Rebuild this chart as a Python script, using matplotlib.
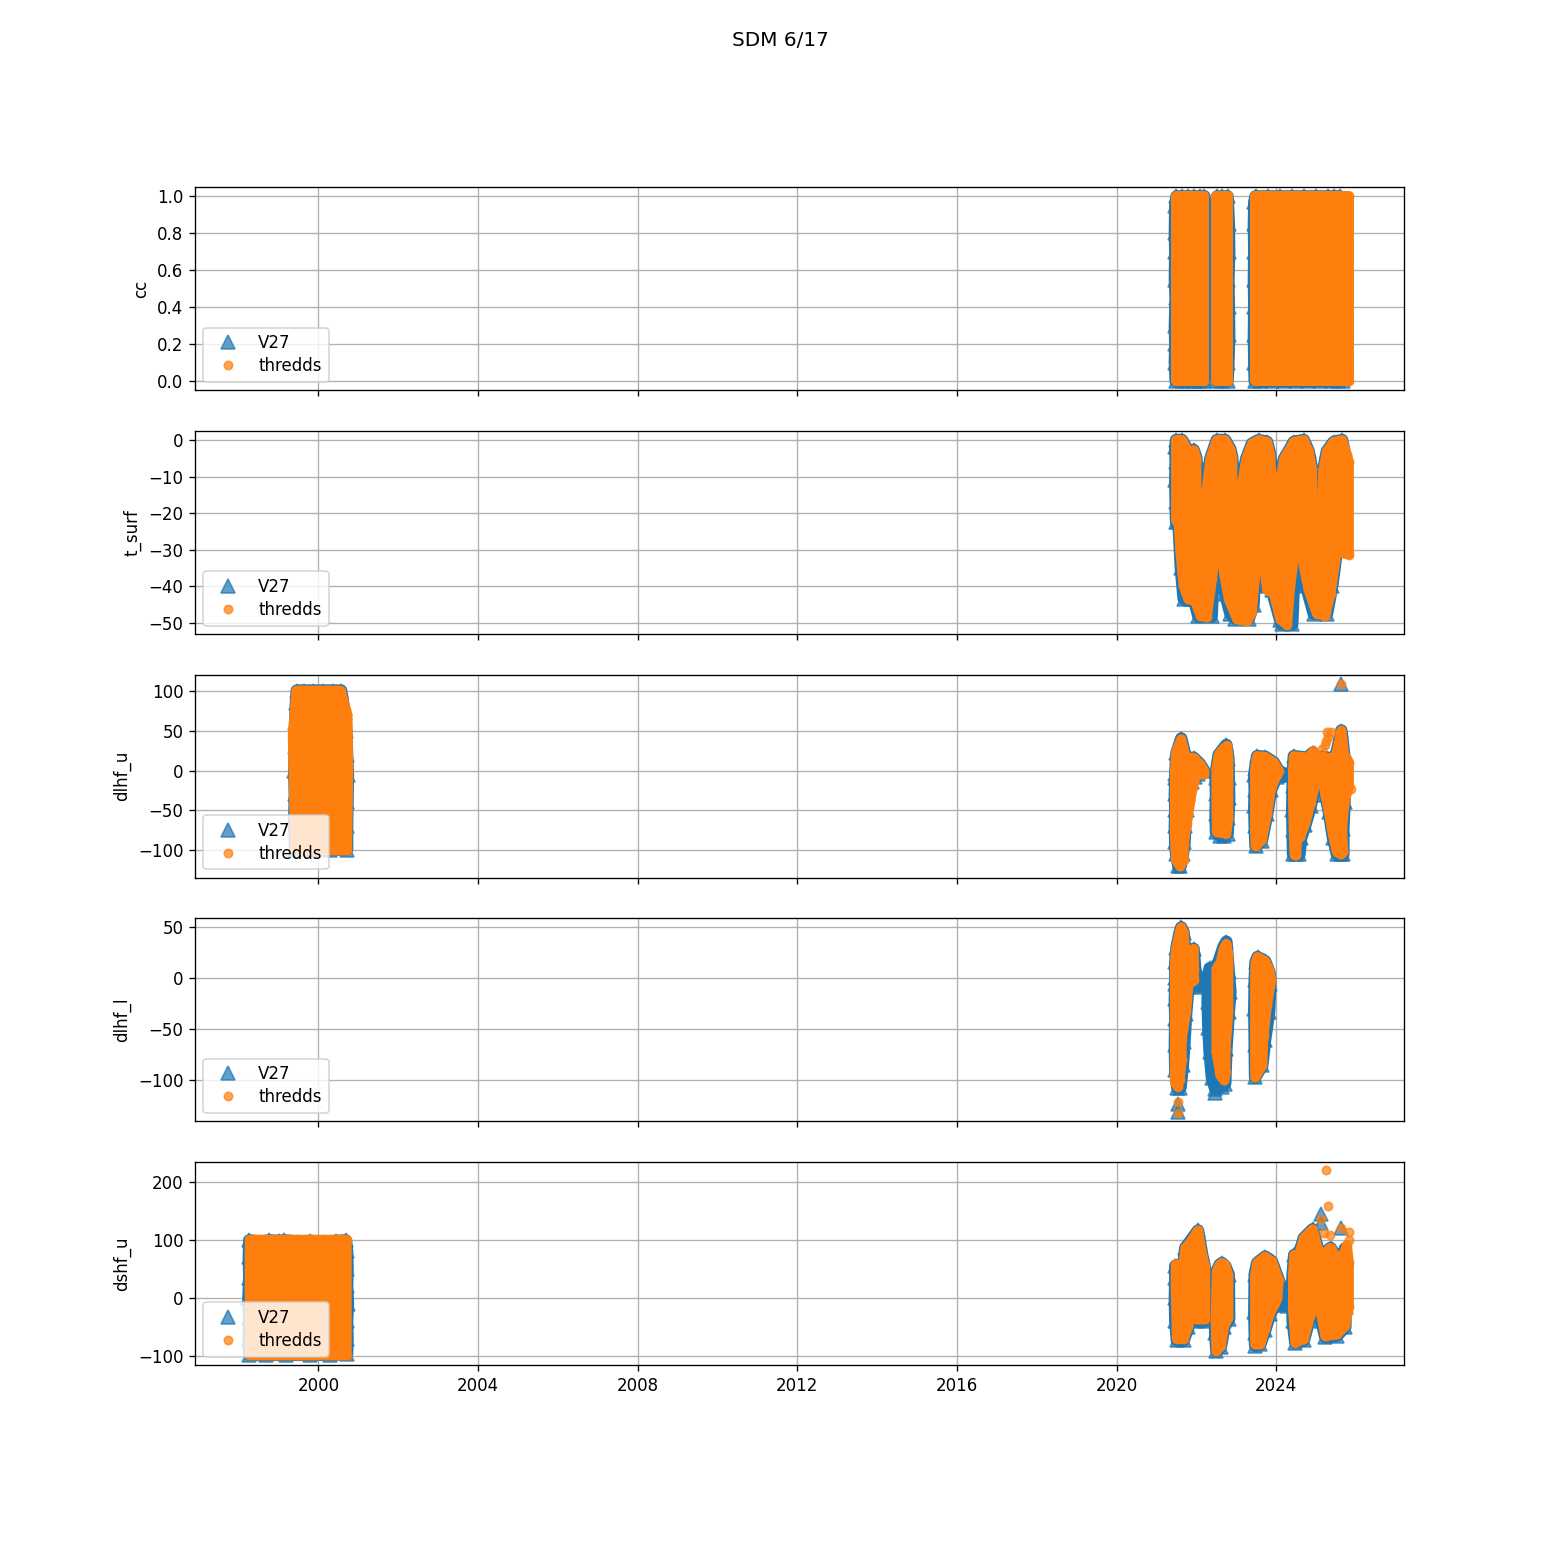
import numpy as np
import matplotlib
matplotlib.use("Agg")
import matplotlib.pyplot as plt

nan = float("nan")

# the clouds are far too dense to read point by point, so each one is kept as
# its outline (decimal year, value), nan between clouds

cc_v27_x = [21.50, 21.65, 21.80, 21.95, 22.10, 22.20, 22.21, 22.20, 22.21, 22.20, 22.21, 22.20, 22.10, 21.95, 21.80, 21.65, 21.48,
            21.46, 21.47, 21.46, 21.48, 21.46, 21.47, 21.46, 21.47, nan,
            22.52, 22.65, 22.78, 22.81, 22.82, 22.80, 22.81, 22.82, 22.80, 22.78, 22.65, 22.50, 22.49, 22.48, 22.49, 22.48, 22.49, nan,
            23.48, 23.80, 24.10, 24.40, 24.70, 25.00, 25.30, 25.45, 25.60, 25.66, 25.55, 25.40, 25.10, 24.80, 24.50, 24.20, 23.90, 23.60, 23.46,
            23.45, 23.44, 23.45, 23.44, 23.45, 23.44, 23.45]
cc_v27_y = [1, 1, 1, 1, 1, 1, .8, .6, .4, .2, .05, 0, 0, 0, 0, 0, 0,
            .1, .2, .3, .45, .55, .7, .8, .95, nan,
            1, 1, 1, .85, .7, .55, .4, .25, .1, 0, 0, 0, .2, .4, .6, .8, .97, nan,
            1, 1, 1, 1, 1, 1, 1, 1, 1, 0, 0, 0, 0, 0, 0, 0, 0, 0, 0,
            .1, .25, .4, .55, .7, .85, .97]
cc_thredds_x = [21.48, 22.20, 22.20, 21.48, nan, 22.50, 22.80, 22.80, 22.50, nan, 23.46, 25.82, 25.82, 23.46]
cc_thredds_y = [1, 1, 0, 0, nan, 1, 1, 0, 0, nan, 1, 1, 0, 0]

tsurf_thredds_x = [21.49, 21.64, 21.72, 21.80, 21.93, 22.00, 22.00, 22.12, 22.25, 22.35, 22.51, 22.72, 22.85, 22.90, 22.90, 23.03, 23.16, 23.25, 23.39, 23.56,
                   23.77, 23.85, 23.87, 24.00, 24.13, 24.20, 24.31, 24.44, 24.69, 24.81, 24.90, 24.90, 25.02, 25.15, 25.18, 25.27, 25.44, 25.65, 25.77, 25.82,
                   25.82, 25.69, 25.65, 25.59, 25.48, 25.36, 25.23, 25.02, 24.81, 24.69, 24.58, 24.48, 24.35, 24.27, 24.10, 23.94,
                   23.77, 23.68, 23.56, 23.48, 23.39, 23.27, 23.02, 22.81, 22.70, 22.60, 22.47, 22.39, 22.26, 22.10, 21.97, 21.80,
                   21.68, 21.60, 21.55, 21.49]
tsurf_thredds_y = [0, 0, -1.5, -4, -2.8, -5, -14, -28, -14, -5, 0, 0, -2.5, -5, -11, -25, -11, -5, -1, 0,
                   -0.5, -4, -9, -22, -9, -5, -3, -0.5, 0, -3, -8, -15, -28, -15, -8, -3, -0.5, 0, -4, -6,
                   -31.3, -31, -28, -22.5, -33, -42, -48, -47.5, -41, -34.5, -23.5, -29, -40, -50.5, -49, -42,
                   -41, -33.5, -26, -36, -47, -49.5, -49, -43.5, -37, -26, -31, -38, -48.5, -48, -44, -43.5,
                   -40, -31, -22, -22]
tsurf_v27_x = [21.49, 21.64, 21.72, 21.80, 21.93, 22.00, 22.00, 22.12, 22.25, 22.35, 22.51, 22.72, 22.85, 22.90, 22.90, 23.03, 23.16, 23.25, 23.39, 23.56,
               23.77, 23.85, 23.87, 24.00, 24.13, 24.20, 24.31, 24.44, 24.69, 24.81, 24.90, 24.90, 25.02, 25.15, 25.18, 25.27, 25.44, 25.65, 25.72,
               25.59, 25.52, 25.40, 25.27, 24.94, 24.75, 24.57, 24.44, 24.40, 24.14, 24.10, 23.89, 23.68, 23.56, 23.47, 23.43,
               23.31, 22.97, 22.85, 22.72, 22.55, 22.43, 22.38, 22.05, 21.93, 21.85, 21.68, 21.61, 21.55, 21.49,
               21.48, 21.47, 21.48, 21.47]
tsurf_v27_y = [0, 0, -1.5, -3.5, -2.7, -5, -12, -22, -12, -5, 0, 0, -2.5, -5, -10, -20, -10, -5, -1, 0,
               -0.5, -4, -8, -18, -8, -5, -3, -0.5, 0, -3, -8, -13, -22, -13, -8, -3, -0.5, 0, -4,
               -23, -30, -40, -47.5, -47.5, -40, -31, -39, -50.4, -50.4, -49.3, -41, -40, -30, -35, -45,
               -48.8, -48.8, -47.5, -42, -30, -36, -48.2, -48.2, -43.4, -43.4, -43.4, -35, -22.5, -22.5,
               -17, -11, -6, -2]

dlhfu_thredds_x = [1999.45, 2000.56, 2000.73, 2000.75, 2000.72, 1999.42, 1999.36, nan,
                   21.46, 21.49, 21.62, 21.72, 21.84, 21.93, 22.09, 22.19, 22.19, 22.05, 21.97, 21.89, 21.76, 21.68, 21.68, 21.59, 21.49, 21.46, nan,
                   22.50, 22.56, 22.67, 22.77, 22.80, 22.80, 22.75, 22.51, 22.50, nan,
                   23.47, 23.52, 23.73, 23.94, 24.06, 24.01, 23.87, 23.77, 23.64, 23.48, 23.47, nan,
                   24.42, 24.44, 24.77, 24.91, 25.02, 25.15, 25.27, 25.44, 25.52, 25.63, 25.70, 25.78, 25.82, 25.82, 25.71, 25.65, 25.68, 25.62,
                   25.52, 25.42, 25.32, 25.23, 25.19, 25.02, 24.86, 24.73, 24.60, 24.52, 24.50, 24.46, 24.44, 24.42, nan,
                   25.63, nan, 24.91, nan, 25.15, nan, 25.25, nan, 25.27, nan, 25.36, nan, 25.22, nan, 25.30, nan, 25.86]
dlhfu_thredds_y = [100, 100, 70, 0, -100, -100, 44, nan,
                   -4, 23, 39, 19, 15, 16, 8, 0, -4, -4, -10, -25, -66, -93, -112, -120, -112, -81, nan,
                   2, 20, 27, 31, 15, -60, -79, -77, -40, nan,
                   2, 18, 17, 10, -0.4, -6, -22.5, -54, -87, -94.6, -73, nan,
                   0, 18, 16, 22, 15, 17, 16, 15, 24, 50, 20, 14, 10, -19, -40, -73, -102, -105,
                   -102, -81, -52, -31, -19, -8, -41, -66, -83, -86, -106, -106, -80, -40, nan,
                   108, nan, 25.8, nan, 27, nan, 37.5, nan, 48, nan, 48.75, nan, 32, nan, 41.7, nan, -23]
dlhfu_v27_x = [1999.46, 1999.65, 1999.86, 2000.11, 2000.36, 2000.57, 2000.66, 2000.70, 2000.72, 2000.74, 2000.73, 2000.72, 2000.72,
               2000.3, 1999.9, 1999.42, 1999.40, 1999.41, 1999.40, 1999.41, 1999.42, 1999.44, nan,
               21.47, 21.50, 21.62, 21.72, 21.84, 21.93, 22.09, 22.19, 22.05, 21.97, 21.88, 21.80, 21.76, 21.72, 21.70, 21.66, 21.60, 21.55, 21.49,
               21.47, 21.46, 21.47, 21.46, 21.47, nan,
               22.50, 22.56, 22.67, 22.75, 22.80, 22.81, 22.82, 22.80, 22.78, 22.70, 22.60, 22.49, 22.48, 22.49, 22.48, nan,
               23.47, 23.52, 23.73, 23.94, 24.06, 24.28, 24.28, 24.01, 23.87, 23.77, 23.64, 23.48, 23.46, 23.45, 23.46, 23.45, nan,
               24.42, 24.44, 24.77, 24.91, 25.02, 25.15, 25.27, 25.44, 25.52, 25.63, 25.70, 25.72, 25.72, 25.72, 25.71, 25.68, 25.68, 25.62,
               25.52, 25.42, 25.32, 25.23, 25.10, 25.02, 24.86, 24.73, 24.62, 24.58, 24.50, 24.42, 24.41, 24.40, 24.41, nan,
               25.63]
dlhfu_v27_y = [100, 100, 100, 100, 100, 100, 72, 50, 20, -5, -40, -70, -99,
               -99, -99, -99, -60, -30, 0, 30, 60, 85, nan,
               -4, 22, 40, 19, 15, 16, 8, 0, -4, -8, -15, -30, -50, -70, -90, -105, -120, -120, -105,
               -90, -70, -50, -30, -10, nan,
               2, 20, 27, 32, 15, -10, -35, -60, -79, -82, -82, -77, -55, -30, -10, nan,
               2, 18, 17, 10, -0.4, -6, -6, -8, -24, -55, -88, -95, -70, -45, -25, -5, nan,
               0, 18, 16, 22, 15, 17, 16, 15, 24, 50, 20, 14, 10, -19, -40, -73, -105, -105,
               -105, -84, -52, -31, -19, -10, -45, -68, -85, -105, -105, -105, -75, -50, -20, nan,
               108]

dlhfl_thredds_x = [21.46, 21.49, 21.58, 21.62, 21.68, 21.71, 21.83, 21.93, 21.94, 21.94, 21.80, 21.74, 21.63, 21.63, 21.58, 21.53, 21.46, 21.46, nan,
                   22.50, 22.50, 22.61, 22.68, 22.75, 22.80, 22.80, 22.73, 22.73, 22.70, 22.60, 22.50, nan,
                   23.47, 23.48, 23.53, 23.72, 23.83, 23.87, 23.77, 23.68, 23.65, 23.47, 23.47, nan,
                   21.55, nan, 21.55]
dlhfl_thredds_y = [16, 29, 45, 50, 45, 29, 24, 29, 9.5, -2, -6.5, -33, -60, -80, -100, -106, -102, -33, nan,
                   0, 9.5, 16, 29, 34, 22.5, -33, -69, -92, -100, -95, -72, nan,
                   0, 16, 21, 17, 8, -2, -26, -56, -85, -97, -66, nan,
                   -121, nan, -132]
dlhfl_v27_x = [21.47, 21.47, 21.50, 21.58, 21.62, 21.68, 21.71, 21.83, 21.93, 21.97, 22.10, 22.10, 21.80, 21.74, 21.70, 21.66, 21.60, 21.52,
               21.47, 21.46, 21.47, 21.46, 21.47, nan,
               22.29, 22.33, 22.43, 22.55, 22.68, 22.75, 22.81, 22.85, 22.81, 22.75, 22.72, 22.64, 22.47, 22.39, 22.33, 22.30, 22.28, nan,
               23.46, 23.48, 23.53, 23.72, 23.83, 23.85, 23.82, 23.72, 23.65, 23.47, 23.46, 23.45, nan,
               21.55, nan, 21.55, nan, 22.47]
dlhfl_v27_y = [0, 16, 30, 45, 50, 45, 29, 24, 29, 8, -3, -8, -8, -35, -62, -85, -107, -107,
               -90, -65, -40, -20, -5, nan,
               -2, 10, 9.5, 16, 31, 36, 6, -13, -33, -69, -103, -106, -108, -98, -72, -49, -23, nan,
               -2, 16, 21, 17, 6, -5, -33, -60, -85, -97, -65, -30, nan,
               -123, nan, -131, nan, -112]

dshfu_thredds_x = [1998.28, 1999.00, 1999.06, 1999.12, 2000.71, 2000.71, 1998.28, nan,
                   21.48, 21.68, 21.72, 21.83, 22.04, 22.14, 22.22, 22.22, 22.22, 22.01, 21.94, 21.86, 21.80, 21.68, 21.51, 21.48, nan,
                   22.50, 22.51, 22.58, 22.64, 22.72, 22.80, 22.80, 22.70, 22.61, 22.50, 22.48, nan,
                   23.47, 23.52, 23.72, 23.89, 24.06, 24.03, 23.98, 23.85, 23.72, 23.60, 23.47, 23.47, nan,
                   24.42, 24.45, 24.56, 24.69, 24.91, 25.10, 25.36, 25.61, 25.77, 25.82, 25.82, 25.73, 25.52, 25.23, 25.15, 25.06, 24.94, 24.85, 24.69, 24.48, 24.42, nan,
                   25.25, nan, 25.29, nan, 25.13, nan, 25.19, nan, 25.34, nan, 25.81, nan, 25.83, nan, 25.63]
dshfu_thredds_y = [100, 100, 95, 100, 100, -99, -99, nan,
                   57, 60, 86, 94, 116, 75, 54, 9, -37, -37, -17, -17, -48, -71, -71, 17, nan,
                   17, 46, 57, 60, 57, 40, -34, -48, -83, -92, -40, nan,
                   40, 60, 71, 63, 31, 0, -9, -25, -54, -80, -80, -40, nan,
                   40, 74, 71, 103, 118, 71, 86, 60, 91, 60, -15, -48, -63, -66, -37, -11, -11, -31, -71, -77, -20, nan,
                   219.5, nan, 158.6, nan, 136, nan, 111, nan, 109, nan, 114, nan, 99, nan, 119.5]
dshfu_v27_x = [1998.27, 1998.56, 1998.77, 1999.02, 1999.15, 1999.48, 1999.78, 2000.11, 2000.44, 2000.69,
               2000.72, 2000.73, 2000.72, 2000.74, 2000.72, 2000.73, 2000.72, 2000.3, 1999.8, 1999.2, 1998.7, 1998.27,
               1998.26, 1998.27, 1998.25, 1998.27, 1998.26, nan,
               21.47, 21.68, 21.72, 21.83, 22.04, 22.14, 22.22, 22.25, 22.22, 22.01, 21.94, 21.86, 21.80, 21.68, 21.51, 21.47, 21.46, 21.47, nan,
               22.50, 22.51, 22.58, 22.64, 22.72, 22.81, 22.82, 22.70, 22.61, 22.50, 22.47, 22.46, nan,
               23.46, 23.52, 23.72, 23.89, 24.06, 24.28, 24.28, 23.98, 23.85, 23.72, 23.60, 23.47, 23.46, 23.45, nan,
               24.41, 24.45, 24.56, 24.69, 24.91, 25.10, 25.36, 25.61, 25.72, 25.74, 25.74, 25.73, 25.52, 25.23, 25.13, 25.06, 24.94, 24.85, 24.69, 24.48, 24.41, 24.40, nan,
               25.13, nan, 25.13, nan, 25.63, nan, 24.56]
dshfu_v27_y = [99, 97, 99, 98, 99, 97, 98, 97, 98, 99,
               80, 50, 20, -10, -40, -70, -97, -98, -98, -98, -98, -98,
               -70, -35, 0, 35, 70, nan,
               55, 60, 86, 96, 116, 75, 50, 9, -40, -40, -20, -20, -50, -73, -73, -40, 0, 35, nan,
               17, 46, 57, 60, 55, 40, -36, -50, -85, -92, -60, -10, nan,
               40, 60, 71, 63, 31, -8, -14, -12, -27, -56, -80, -82, -60, -25, nan,
               40, 74, 71, 103, 118, 71, 86, 60, 85, 60, -15, -50, -65, -68, -40, -13, -13, -33, -73, -78, -40, 10, nan,
               145, nan, 129, nan, 121, nan, 90]

year_ticks = [2000, 2004, 2008, 2012, 2016, 2020, 2024]
variables = ["cc", "t_surf", "dlhf_u", "dlhf_l", "dshf_u"]
v27_outlines = [(cc_v27_x, cc_v27_y), (tsurf_v27_x, tsurf_v27_y), (dlhfu_v27_x, dlhfu_v27_y),
                (dlhfl_v27_x, dlhfl_v27_y), (dshfu_v27_x, dshfu_v27_y)]
thredds_outlines = [(cc_thredds_x, cc_thredds_y), (tsurf_thredds_x, tsurf_thredds_y), (dlhfu_thredds_x, dlhfu_thredds_y),
                    (dlhfl_thredds_x, dlhfl_thredds_y), (dshfu_thredds_x, dshfu_thredds_y)]
y_limits = [(-0.05, 1.05), (-53, 2.5), (-134, 120), (-140, 59), (-115.5, 234)]


def to_year(values):
    # the outlines near 2021+ are written without the 2000
    x = np.array(values, dtype=float)
    return np.where(x < 100, x + 2000, x)


def draw_cloud(ax, outline, color, marker, ms, width, label, z):
    x = to_year(outline[0])
    y = np.array(outline[1], dtype=float)
    breaks = np.where(np.isnan(x))[0]
    for xs, ys in zip(np.split(x, breaks), np.split(y, breaks)):
        keep = ~np.isnan(xs)
        if keep.sum() > 2:
            ax.fill(xs[keep], ys[keep], facecolor=color, edgecolor=color, linewidth=width, joinstyle="round", zorder=z)
    ax.plot(x, y, linestyle="", marker=marker, markersize=ms, color=color, alpha=0.7, label=label, zorder=z + 0.1)


fig, axes = plt.subplots(5, 1, figsize=(13, 13), dpi=120, sharex=True)
fig.subplots_adjust(top=0.88, bottom=0.125)
fig.suptitle("SDM 6/17")

for i, ax in enumerate(axes):
    draw_cloud(ax, v27_outlines[i], "C0", "^", 8, 7.5, "V27", 2)
    draw_cloud(ax, thredds_outlines[i], "C1", "o", 5, 6, "thredds", 2.2)
    ax.set_ylabel(variables[i])
    ax.set_ylim(y_limits[i])
    ax.grid(True)
    ax.legend(loc="lower left", borderpad=0.4, labelspacing=0.3, handlelength=2.1, handletextpad=0.8)

axes[-1].set_xlim(1996.91, 2027.2)
axes[-1].set_xticks(year_ticks)
axes[-1].set_xticklabels([str(y) for y in year_ticks])

fig.savefig("out.png")
